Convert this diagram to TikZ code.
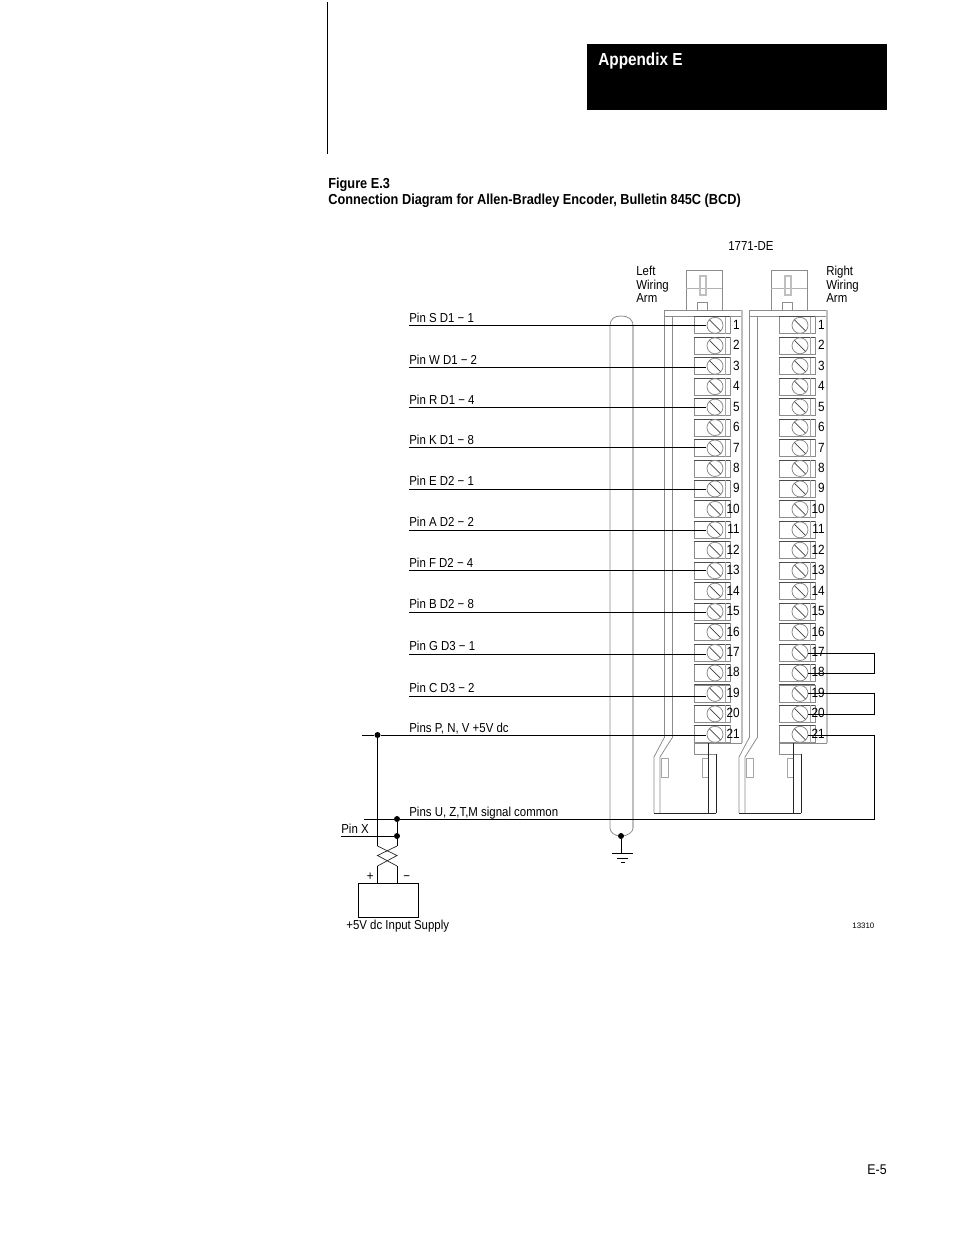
\documentclass[tikz,border=0pt]{standalone}
\usepackage{fontspec}
\setmainfont{Liberation Sans}[FakeStretch=0.88]
\newfontfamily\tinyf{Liberation Sans}
\usetikzlibrary{calc}
\tikzset{
 x=0.02cm,y=-0.02cm,
 wire/.style={line width=0.5pt,black},
 thin wire/.style={line width=0.4pt,black!85},
 gline/.style={line width=0.45pt,black!45},
 lgline/.style={line width=0.8pt,black!25},
 lab/.style={anchor=base west,inner sep=0,font=\fontsize{7.4}{8}\selectfont},
 num/.style={anchor=base east,inner sep=0,font=\fontsize{7.6}{8}\selectfont},
 head/.style={anchor=base west,inner sep=0,font=\fontsize{8.25}{9}\selectfont\bfseries},
 dotn/.style={circle,fill=black,inner sep=0,minimum size=3.4pt},
}
\newcommand{\wiringarm}[2]{% #1 x offset from left arm, #2 prefix
 \begin{scope}[xshift=#1*0.02cm]
  \draw[gline] (664,310) -- (742,310);
  \draw[gline] (664,316) -- (742,316);
  \draw[gline] (664,310) -- (664,738);
  \draw[gline] (672,316) -- (672,738);
  \draw[lgline] (742,310) -- (742,743);
  \draw[gline] (686,310) -- (686,270) -- (722,270) -- (722,310);
  \draw[line width=0.3pt,black!30] (686,288) -- (722,288);
  \draw[line width=0.6pt,black!25] (700,276) rectangle (706,295);
  \draw[gline] (697,310) -- (697,302) -- (707,302) -- (707,310);
  \draw[gline] (664,738) -- (654,757) -- (654,813);
  \draw[gline] (672,738) -- (660,757) -- (660,813);
  \draw[line width=0.5pt,black!35] (661,758) rectangle (668,777);
  \draw[line width=0.5pt,black!35] (702,758) rectangle (708,777);
  \draw[gline] (694,743) -- (742,743);
  \draw[gline] (694,743) -- (694,754) -- (716,754);
  \draw[thin wire] (708,743) -- (708,813);
  \draw[thin wire] (716,754) -- (716,813);
  \draw[thin wire] (654,813) -- (716,813);
  \foreach \n [count=\i from 0] in {1,...,21}{
   \pgfmathsetmacro{\yy}{325.3+20.45*\i}
   \coordinate (#2\n) at (715,\yy);
   \draw[gline] (694,\yy-8.5) rectangle (730,\yy+8.5);
   \draw[black!70,line width=0.5pt] (694,\yy-8.5) -- (730,\yy-8.5);
   \draw[line width=0.3pt,black!35] (725,\yy-8.5) -- (725,\yy+8.5);
   \draw[gline,fill=white] (715,\yy) circle (8);
   \draw[black!75,line width=0.4pt] ($(715,\yy)+(-5.5,-5.5)$) -- ($(715,\yy)+(5.5,5.5)$);
   \node[num] at (740,\yy+4) {\n};
  }
 \end{scope}
}
\begin{document}
\begin{tikzpicture}
\useasboundingbox (0,0) rectangle (954,1235);
\fill[white] (0,0) rectangle (954,1235);
\draw[line width=0.4pt] (327,2) -- (327,154);
\fill[black] (587,44) rectangle (887,110);
\node[head,white,font=\fontsize{9.9}{11}\selectfont\bfseries] (app) at (598,65) {Appendix E};
\node[head] (fig) at (328,188) {Figure E.3};
\node[head] (cap) at (328,204) {Connection Diagram for Allen-Bradley Encoder, Bulletin 845C (BCD)};
\node[lab] (de) at (728,250) {1771-DE};
\node[lab] (lw1) at (636,275) {Left};
\node[lab] (lw2) at (636,289) {Wiring};
\node[lab] (lw3) at (636,302) {Arm};
\node[lab] (rw1) at (826,275) {Right};
\node[lab] (rw2) at (826,289) {Wiring};
\node[lab] (rw3) at (826,302) {Arm};
\node[inner sep=0,anchor=base west,font=\tinyf\fontsize{4.5}{6}\selectfont] (num) at (852,928) {13310};
\node[anchor=base east,inner sep=0,font=\fontsize{8}{9}\selectfont] (pg) at (887,1174) {E-5};
\wiringarm{0}{L}
\wiringarm{85}{R}
% shield
\draw[gline] (610,326) .. controls (610,319) and (614,316) .. (621,316) .. controls (628,316) and (633,319) .. (633,326);
\draw[gline] (610,326) -- (610,828) .. controls (610,832) and (614,836) .. (621,836) .. controls (628,836) and (633,832) .. (633,828);
\draw[line width=1pt,black!25] (633,326) -- (633,828);
\node[dotn] (gnd) at (621,836) {};
\coordinate (g1) at (621,853);
\draw[wire] (gnd) -- (g1);
\draw[wire] (612,853) -- (633,853);
\draw[wire] (617,858) -- (628,858);
\draw[wire] (621,862) -- (625,862);
% left wires
\foreach \lb/\yy/\n in {Pin S D1 − 1/325.5/1, Pin W D1 − 2/367.3/3, Pin R D1 − 4/407.5/5, Pin K D1 − 8/447.5/7, Pin E D2 − 1/489/9, Pin A D2 − 2/530/11, Pin F D2 − 4/570.5/13, Pin B D2 − 8/612/15, Pin G D3 − 1/654/17, Pin C D3 − 2/696/19}{
 \node[lab] (t\n) at (409,\yy-3.3) {\lb};
 \coordinate (s\n) at (409,\yy);
 \coordinate (e\n) at (706,\yy);
 \draw[wire] (s\n) -- (e\n);
}
\node[lab] at (409,732.5) {Pins P, N, V +5V dc};
\node[lab] at (409,816.5) {Pins U, Z,T,M signal common};
\node[dotn] (d5) at (377.5,735) {};
\node[dotn] (dc) at (397,819) {};
\node[dotn] (dx) at (397,836) {};
\coordinate (a5) at (362,735);
\coordinate (ac) at (364,819);
\coordinate (ax) at (341,836);
\coordinate (t21) at (706,735);
\draw[wire] (a5) -- (d5) -- (t21);
\node[lab] (px) at (341,833) {Pin X};
\draw[wire] (ax) -- (dx);
\draw[wire] (ac) -- (dc);
% right jumpers
\coordinate (j17) at (808,653);\coordinate (j18) at (808,673);
\coordinate (j19) at (808,693);\coordinate (j20) at (808,714);
\coordinate (j21) at (808,735);
\draw[wire] (j17) -- (874,653) -- (874,673) -- (j18);
\draw[wire] (j19) -- (874,693) -- (874,714) -- (j20);
\draw[wire] (j21) -- (874,735) -- (874,819) -- (dc);
% twist
\draw[wire] (d5) -- (377.5,846);
\draw[thin wire] (377.5,846) -- (397,855.5) -- (377.5,866);
\draw[wire] (377.5,866) -- (377.5,883);
\draw[wire] (dc) -- (397,846);
\draw[thin wire] (397,846) -- (377.5,855.5) -- (397,866);
\draw[wire] (397,866) -- (397,883);
\draw[wire] (358,883) rectangle (418,917);
\node[lab] at (366.5,880) {+};
\node[lab] at (403,880) {−};
\node[lab] (in) at (346,929.5) {+5V dc Input Supply};
\end{tikzpicture}
\end{document}
